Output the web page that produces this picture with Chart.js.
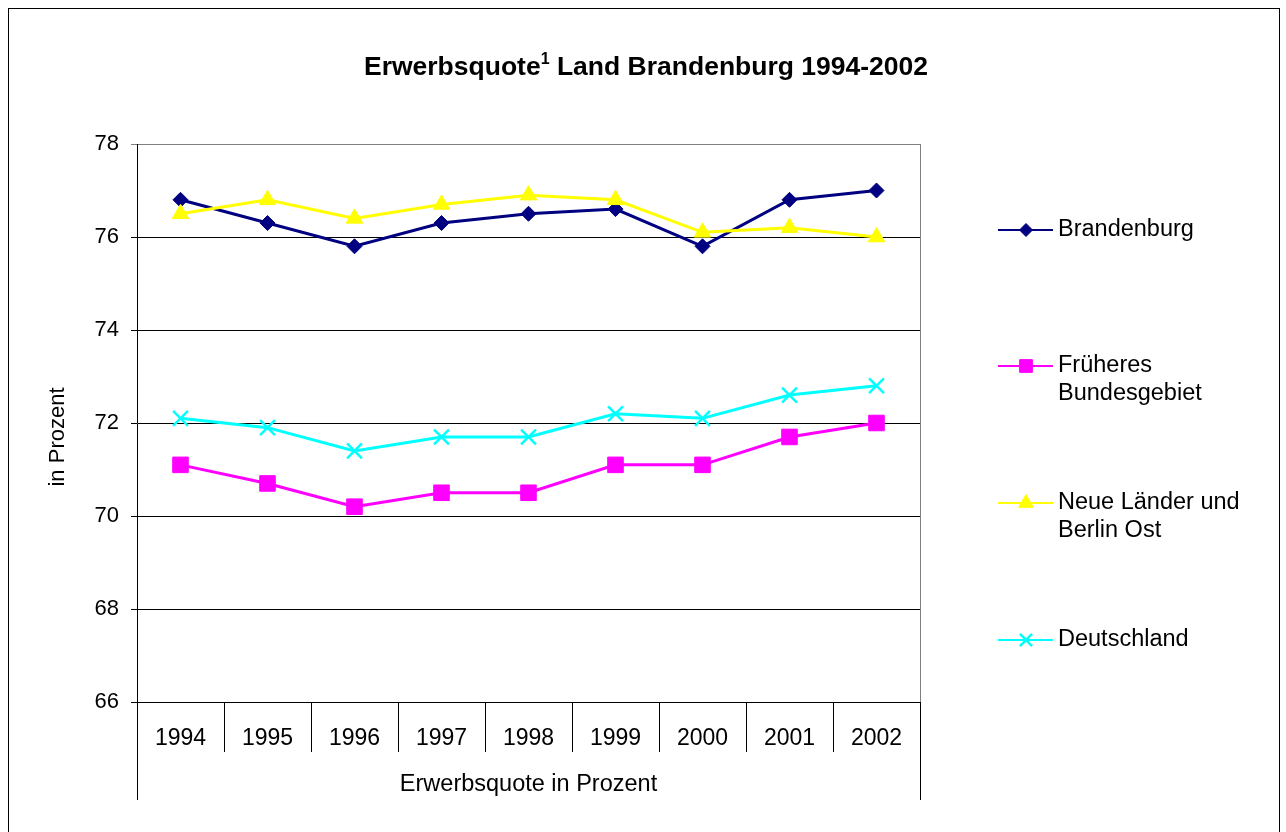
<!DOCTYPE html>
<html><head><meta charset="utf-8">
<script src="https://cdn.jsdelivr.net/npm/chart.js@4/dist/chart.umd.min.js"></script>
<style>html,body{margin:0;padding:0;background:#fff}</style>
</head><body>
<canvas id="c" width="1286" height="832"></canvas>
<script>
const years = ['1994','1995','1996','1997','1998','1999','2000','2001','2002'];
const brandenburg = [76.8, 76.3, 75.8, 76.3, 76.5, 76.6, 75.8, 76.8, 77.0];
const frueheresBundesgebiet = [71.1, 70.7, 70.2, 70.5, 70.5, 71.1, 71.1, 71.7, 72.0];
const neueLaender = [76.5, 76.8, 76.4, 76.7, 76.9, 76.8, 76.1, 76.2, 76.0];
const deutschland = [72.1, 71.9, 71.4, 71.7, 71.7, 72.2, 72.1, 72.6, 72.8];
const seriesNames = ['Brandenburg', ['Früheres', 'Bundesgebiet'], ['Neue Länder und', 'Berlin Ost'], 'Deutschland'];
const yMin = 66, yMax = 78, yStep = 2;
const chartTitleMain = 'Erwerbsquote';
const chartTitleSup = '1';
const chartTitleRest = ' Land Brandenburg 1994-2002';
const xAxisTitle = 'Erwerbsquote in Prozent';
const yAxisTitle = 'in Prozent';

const FONT = "'Liberation Sans', Arial, sans-serif";
const legendRadius = [6.5, 9, 8.5, 8.5];

const frame = {
  id: 'frame',
  beforeDraw(chart) {
    const ctx = chart.ctx;
    ctx.save();
    ctx.fillStyle = '#fff';
    ctx.fillRect(0, 0, chart.width, chart.height);
    ctx.strokeStyle = '#000';
    ctx.lineWidth = 1;
    ctx.strokeRect(8.5, 8.5, 1271, 850);
    ctx.restore();
  },
  afterDraw(chart) {
    const ctx = chart.ctx;
    const a = chart.chartArea;
    ctx.save();
    ctx.strokeStyle = '#808080';
    ctx.lineWidth = 1;
    ctx.beginPath();
    ctx.moveTo(Math.round(a.right) + 0.5, a.top);
    ctx.lineTo(Math.round(a.right) + 0.5, a.bottom);
    ctx.stroke();
    ctx.strokeStyle = '#000';
    ctx.beginPath();
    ctx.moveTo(Math.round(a.left) + 0.5, a.bottom);
    ctx.lineTo(Math.round(a.left) + 0.5, 800);
    ctx.moveTo(Math.round(a.right) + 0.5, a.bottom);
    ctx.lineTo(Math.round(a.right) + 0.5, 800);
    ctx.stroke();
    // title
    ctx.fillStyle = '#000';
    ctx.textBaseline = 'alphabetic';
    ctx.font = 'bold 26.5px ' + FONT;
    const w1 = ctx.measureText(chartTitleMain).width;
    const w3 = ctx.measureText(chartTitleRest).width;
    ctx.font = 'bold 16px ' + FONT;
    const w2 = ctx.measureText(chartTitleSup).width;
    const total = w1 + w2 + w3;
    let x = 646 - total / 2;
    const base = 75;
    ctx.font = 'bold 26.5px ' + FONT;
    ctx.textAlign = 'left';
    ctx.fillText(chartTitleMain, x, base);
    x += w1;
    ctx.font = 'bold 16px ' + FONT;
    ctx.fillText(chartTitleSup, x, base - 11);
    x += w2;
    ctx.font = 'bold 26.5px ' + FONT;
    ctx.fillText(chartTitleRest, x, base);
    // y title
    ctx.save();
    ctx.translate(58, 437);
    ctx.rotate(-Math.PI / 2);
    ctx.font = '22px ' + FONT;
    ctx.textAlign = 'center';
    ctx.textBaseline = 'middle';
    ctx.fillText(yAxisTitle, 0, 0);
    ctx.restore();
    // legend
    const legendY = [230, 366, 503, 640];
    chart.data.datasets.forEach((ds, i) => {
      const y = legendY[i];
      ctx.strokeStyle = ds.borderColor;
      ctx.lineWidth = 2;
      ctx.beginPath();
      ctx.moveTo(998, y);
      ctx.lineTo(1053, y);
      ctx.stroke();
      ctx.fillStyle = ds.pointBackgroundColor;
      ctx.strokeStyle = ds.pointBorderColor;
      ctx.lineWidth = ds.pointBorderWidth || 1;
      Chart.helpers.drawPoint(ctx, {
        pointStyle: ds.pointStyle,
        radius: legendRadius[i],
        rotation: 0,
        borderWidth: ds.pointBorderWidth || 1
      }, 1026, y);
      ctx.fillStyle = '#000';
      ctx.font = '23.5px ' + FONT;
      ctx.textAlign = 'left';
      ctx.textBaseline = 'middle';
      const lines = Array.isArray(seriesNames[i]) ? seriesNames[i] : [seriesNames[i]];
      lines.forEach((t, k) => ctx.fillText(t, 1058, y + k * 28));
    });
    ctx.restore();
  }
};

new Chart(document.getElementById('c'), {
  type: 'line',
  data: {
    labels: years,
    datasets: [
      { label: 'Brandenburg', data: brandenburg, borderColor: '#000080', backgroundColor: '#000080',
        pointBackgroundColor: '#000080', pointBorderColor: '#000080', pointStyle: 'rectRot', pointRadius: 7.5,
        pointBorderWidth: 1, borderWidth: 3, order: 4 },
      { label: 'Früheres Bundesgebiet', data: frueheresBundesgebiet, borderColor: '#FF00FF', backgroundColor: '#FF00FF',
        pointBackgroundColor: '#FF00FF', pointBorderColor: '#FF00FF', pointStyle: 'rect', pointRadius: 11,
        pointBorderWidth: 1, borderWidth: 3, order: 3 },
      { label: 'Neue Länder und Berlin Ost', data: neueLaender, borderColor: '#FFFF00', backgroundColor: '#FFFF00',
        pointBackgroundColor: '#FFFF00', pointBorderColor: '#FFFF00', pointStyle: 'triangle', pointRadius: 9.5,
        pointBorderWidth: 1, borderWidth: 3, order: 2 },
      { label: 'Deutschland', data: deutschland, borderColor: '#00FFFF', backgroundColor: '#00FFFF',
        pointBackgroundColor: '#00FFFF', pointBorderColor: '#00FFFF', pointStyle: 'crossRot', pointRadius: 10.5,
        pointBorderWidth: 2.5, borderWidth: 3, order: 1 }
    ]
  },
  options: {
    responsive: false,
    animation: false,
    devicePixelRatio: 1,
    layout: { padding: { top: 144, right: 366, bottom: 0, left: 0 } },
    plugins: { legend: { display: false }, title: { display: false }, tooltip: { enabled: false } },
    elements: { line: { tension: 0 } },
    scales: {
      x: {
        type: 'category',
        offset: true,
        grid: { offset: true, drawOnChartArea: false, drawTicks: true, tickLength: 50, color: '#000', lineWidth: 1 },
        border: { display: true, color: '#000', width: 1 },
        ticks: { color: '#000', font: { family: FONT, size: 23 }, padding: -27, maxRotation: 0, autoSkip: false },
        title: { display: true, text: xAxisTitle, color: '#000', font: { family: FONT, size: 23.5 }, padding: { top: 0, bottom: 33 } },
        afterFit(scale) { scale.height = 130; }
      },
      y: {
        min: yMin, max: yMax,
        ticks: { stepSize: yStep, color: '#000', font: { family: FONT, size: 22 }, padding: 12 },
        grid: {
          drawTicks: true, tickLength: 6, lineWidth: 1,
          color: (c) => (c.tick && c.tick.value === yMax) ? '#808080' : '#000'
        },
        border: { display: true, color: '#000', width: 1 },
        afterFit(scale) { scale.width = 137; }
      }
    }
  },
  plugins: [frame]
});
</script>
</body></html>
